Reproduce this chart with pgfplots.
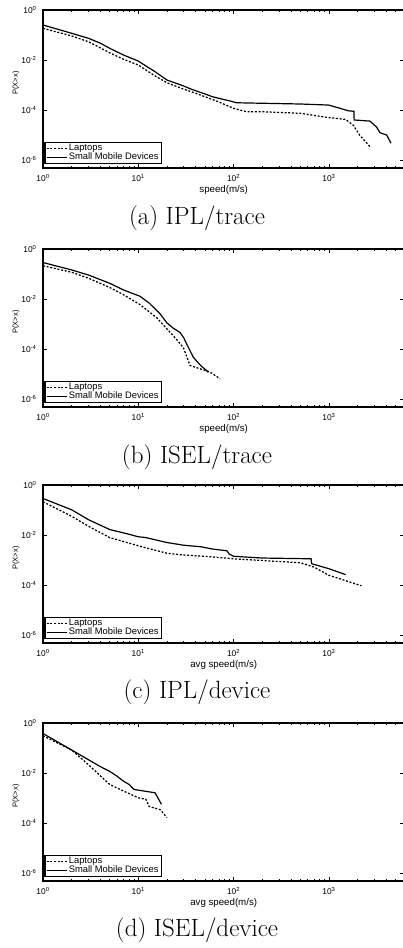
\documentclass[border=0pt]{standalone}
\usepackage{fontspec}
\usepackage{pgfplots}
\pgfplotsset{compat=1.18}
\newfontfamily\helv{Liberation Sans}

\tikzset{
  lap/.style={black, line width=1.25pt, dash pattern=on 2pt off 1.7pt},
  smd/.style={black, line width=1.2pt},
}
\pgfplotsset{legend image code/.code={\draw[#1] (0pt,0pt) -- (20pt,0pt);}}

% matlab-like log/log panel, 1pt = 1px of the reference
\pgfplotsset{
  mpanel/.style={
    scale only axis, width=361.4pt, height=158pt,
    xmin=1, xmax=6200, ymin=4.8e-7, ymax=1,
    axis line style={line width=1.4pt},
    tick style={black, line width=0.6pt},
    tick align=inside, major tick length=4pt, minor tick length=2pt,
    xtick={1,10,100,1000},
    xticklabels={10\textsuperscript{0},10\textsuperscript{1},10\textsuperscript{2},10\textsuperscript{3}},
    minor xtick={2,3,4,5,6,7,8,9,20,30,40,50,60,70,80,90,200,300,400,500,600,700,800,900,2000,3000,4000,5000,6000},
    ytick={1e-6,1e-4,1e-2,1},
    yticklabels={10\textsuperscript{-6},10\textsuperscript{-4},10\textsuperscript{-2},10\textsuperscript{0}},
    yminorticks=false,
    tick label style={font=\helv\fontsize{8.4}{9}\selectfont},
    xticklabel style={yshift=-3pt},
    yticklabel style={xshift=-3pt},
    ylabel={P(X>x)},
    ylabel style={font=\helv\fontsize{7.5}{8}\selectfont, at={(rel axis cs:0,0.5)}, anchor=center, xshift=6pt, yshift=27pt},
    xlabel style={font=\helv\fontsize{9.7}{10}\selectfont, at={(rel axis cs:0.5,0)}, anchor=center, yshift=-22pt},
    legend cell align=left,
    legend style={at={(rel axis cs:0,0)}, anchor=south west, xshift=1.5pt, yshift=4pt,
      draw=black, line width=1.1pt, font=\helv\fontsize{9.4}{10}\selectfont,
      inner xsep=1pt, inner ysep=0.5pt, row sep=-2pt,
      nodes={inner xsep=1.5pt, inner ysep=1.5pt}},
  },
}

\begin{document}
\begin{tikzpicture}
\useasboundingbox (0pt,0pt) rectangle (402pt,948pt);

% (a) IPL/trace
\begin{loglogaxis}[mpanel, at={(43pt,938pt)}, anchor=north west, xlabel={speed(m/s)}]
\addplot[lap] coordinates {(1,0.186) (2,0.091) (3,0.054) (5,0.0195) (7,0.0107) (10,0.0063)
  (15,0.0023) (20,0.00123) (30,6.8e-4) (40,4.7e-4) (50,3.4e-4) (70,2.1e-4) (100,1.17e-4) (137,8.5e-5)
  (200,8.5e-5) (500,7.4e-5) (948,5.1e-5) (1500,4.2e-5) (1800,2.5e-5) (2100,1e-5) (2700,3.4e-6)};
\addlegendentry{Laptops}
\addplot[smd] coordinates {(1,0.251) (2,0.117) (3,0.074) (4,0.047) (5,0.0295) (7,0.0158)
  (10,0.0091) (12,0.0058) (15,0.0034) (20,0.00158) (25,0.00117) (30,9.1e-4) (35,7.1e-4)
  (40,5.9e-4) (50,4.4e-4) (60,3.4e-4) (75,2.75e-4) (92,2.3e-4) (107,1.95e-4) (500,1.74e-4)
  (990,1.58e-4) (1310,1.17e-4) (1600,9.3e-5) (1835,8.9e-5) (1840,4.0e-5) (2700,3.6e-5)
  (3160,2.1e-5) (3440,1.23e-5) (4040,1e-5) (4490,4.7e-6)};
\addlegendentry{Small Mobile Devices}
\end{loglogaxis}
\node[font=\fontsize{25}{30}\selectfont] at (197pt,730pt) {(a) IPL/trace};

% (b) ISEL/trace
\begin{loglogaxis}[mpanel, at={(43pt,699pt)}, anchor=north west, xlabel={speed(m/s)}]
\addplot[lap] coordinates {(1,0.214) (2,0.117) (3,0.068) (5,0.029) (7,0.0148) (10.4,0.006)
  (15.6,0.00178) (23.3,3.4e-4) (29.7,1.15e-4) (34.9,2.2e-5) (44.4,1.62e-5) (56.5,1.2e-5) (72,6.5e-6)};
\addlegendentry{Laptops}
\addplot[smd] coordinates {(1,0.288) (2,0.145) (3,0.091) (5,0.0427) (7,0.023) (10.4,0.0129)
  (13,0.0069) (16.9,0.00257) (20,0.0011) (23.3,6.8e-4) (27.4,4.6e-4) (30,2.8e-4) (32.2,1.58e-4)
  (37.8,4.7e-5) (45,2.2e-5) (52,1.38e-5) (54.3,1.17e-5)};
\addlegendentry{Small Mobile Devices}
\end{loglogaxis}
\node[font=\fontsize{25}{30}\selectfont] at (197pt,491pt) {(b) ISEL/trace};

% (c) IPL/device
\begin{loglogaxis}[mpanel, at={(43pt,463pt)}, anchor=north west, xlabel={avg speed(m/s)}]
\addplot[lap] coordinates {(1,0.214) (2,0.056) (3,0.0224) (5,0.0079) (10,0.0037) (20,0.00186)
  (30,0.00158) (50,0.00141) (100,0.00112) (200,9.5e-4) (500,7.8e-4) (700,5.2e-4) (1000,2.45e-4) (2200,9.3e-5)};
\addlegendentry{Laptops}
\addplot[smd] coordinates {(1,0.288) (2,0.102) (3,0.041) (5,0.0166) (8,0.0107) (10,0.0085)
  (12,0.0079) (20,0.005) (30,0.0039) (45,0.0034) (60,0.00275) (85,0.00234) (90,0.00174)
  (100,0.00141) (200,0.0012) (650,0.00112) (660,7.1e-4) (1000,4.5e-4) (1500,2.6e-4)};
\addlegendentry{Small Mobile Devices}
\end{loglogaxis}
\node[font=\fontsize{25}{30}\selectfont] at (197pt,256pt) {(c) IPL/device};

% (d) ISEL/device
\begin{loglogaxis}[mpanel, at={(43pt,225pt)}, anchor=north west, xlabel={avg speed(m/s)}]
\addplot[lap] coordinates {(1,0.31) (2,0.083) (3,0.0214) (5,0.0035) (7,0.0019) (10,0.00102)
  (12,8.9e-4) (13,4.6e-4) (17,3.4e-4) (20,1.66e-4)};
\addlegendentry{Laptops}
\addplot[smd] coordinates {(1,0.38) (2,0.083) (3,0.034) (4,0.018) (5,0.0117) (6,0.0074)
  (7,0.0047) (8,0.0035) (9,0.0022) (15,0.00162) (17.5,5.6e-4)};
\addlegendentry{Small Mobile Devices}
\end{loglogaxis}
\node[font=\fontsize{25}{30}\selectfont] at (197pt,18pt) {(d) ISEL/device};
\end{tikzpicture}
\end{document}
